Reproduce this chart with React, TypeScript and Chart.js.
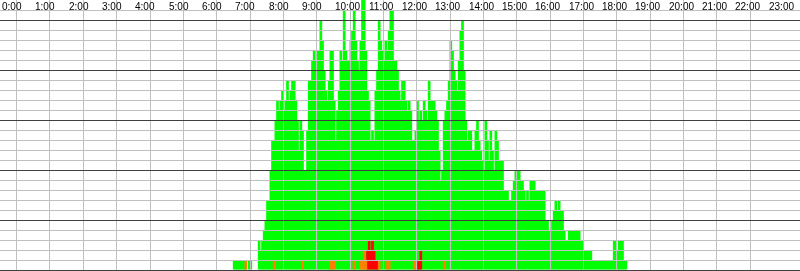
import { useEffect, useRef } from 'react';
import { Chart, registerables } from 'chart.js';

Chart.register(...registerables);

// Hour labels shown along the top of the plot
const HOUR_LABELS = [
  '0:00', '1:00', '2:00', '3:00', '4:00', '5:00', '6:00', '7:00', '8:00', '9:00', '10:00', '11:00',
  '12:00', '13:00', '14:00', '15:00', '16:00', '17:00', '18:00', '19:00', '20:00', '21:00', '22:00', '23:00',
];

// 3-minute bins, 20 per hour. Total bar height (rows) per bin.
const total07 = [1, 1, 1, 1, 1, 1, 1, 1, 0, 1, 1, 0, 0, 0, 0, 3, 2, 3, 4, 5];
const total08 = [7, 7, 10, 13, 13, 15, 17, 16, 17, 18, 16, 17, 19, 17, 18, 19, 19, 17, 15, 12];
const total09 = [15, 14, 10, 10, 14, 19, 19, 21, 22, 21, 22, 22, 25, 23, 20, 18, 17, 19, 22, 22];
const total10 = [17, 13, 16, 18, 22, 21, 26, 22, 21, 21, 23, 24, 26, 23, 21, 20, 23, 27, 27, 22];
const total11 = [18, 17, 13, 14, 13, 18, 20, 25, 23, 22, 21, 23, 22, 24, 26, 26, 21, 21, 20, 18];
const total12 = [17, 19, 19, 17, 16, 17, 16, 13, 13, 14, 17, 15, 16, 15, 17, 16, 15, 19, 17, 17];
const total13 = [17, 16, 15, 12, 9, 10, 15, 16, 17, 19, 23, 22, 20, 19, 18, 21, 24, 25, 20, 15];
const total14 = [13, 14, 14, 12, 12, 14, 15, 13, 12, 11, 10, 15, 13, 11, 14, 12, 10, 14, 13, 11];
const total15 = [11, 11, 8, 8, 8, 7, 7, 8, 9, 10, 10, 10, 9, 9, 8, 7, 8, 7, 9, 9];
const total16 = [9, 8, 8, 8, 8, 8, 8, 5, 5, 4, 4, 5, 6, 7, 6, 7, 6, 6, 4, 3];
const total17 = [3, 4, 4, 4, 4, 4, 4, 4, 3, 3, 2, 2, 2, 2, 2, 1, 1, 1, 1, 1];
const total18 = [1, 1, 1, 1, 1, 1, 1, 1, 3, 3, 2, 3, 3, 3, 1, 1, 0, 0, 0, 0];

// Orange (bottom) rows per bin
const orange07 = [0, 0, 0, 0, 0, 0, 0, 1, 0, 0, 0, 0, 0, 0, 0, 0, 0, 0, 0, 0];
const orange08 = [0, 0, 0, 0, 1, 0, 0, 0, 0, 0, 0, 0, 0, 0, 0, 0, 0, 0, 0, 0];
const orange09 = [0, 1, 0, 0, 0, 0, 0, 0, 0, 0, 0, 0, 0, 0, 0, 0, 0, 0, 1, 1];
const orange10 = [1, 0, 0, 0, 0, 0, 0, 0, 0, 0, 1, 0, 1, 0, 0, 0, 1, 1, 2, 1];
const orange11 = [0, 0, 0, 0, 0, 0, 0, 1, 0, 0, 0, 0, 1, 1, 0, 0, 0, 0, 0, 0];
const orange12 = [0, 0, 0, 0, 0, 0, 0, 0, 1, 1, 0, 0, 0, 0, 0, 0, 0, 0, 0, 0];
const orange13 = [0, 0, 0, 0, 0, 0, 1, 0, 0, 0, 0, 0, 0, 0, 0, 0, 0, 0, 0, 0];

// Red (bottom) rows per bin
const red11 = [2, 3, 2, 3, 2, 1, 1, 0, 0, 0, 0, 0, 0, 0, 0, 0, 0, 0, 0, 0];
const red12 = [0, 0, 0, 0, 0, 0, 0, 0, 0, 0, 1, 1, 2, 0, 0, 0, 0, 0, 0, 0];

const totalByHour: Record<number, number[]> = {
  7: total07, 8: total08, 9: total09, 10: total10, 11: total11, 12: total12,
  13: total13, 14: total14, 15: total15, 16: total16, 17: total17, 18: total18,
};
const orangeByHour: Record<number, number[]> = {
  7: orange07, 8: orange08, 9: orange09, 10: orange10, 11: orange11, 12: orange12, 13: orange13,
};
const redByHour: Record<number, number[]> = { 11: red11, 12: red12 };

const BINS = 20;

function flatten(byHour: Record<number, number[]>): number[] {
  const out: number[] = [];
  for (let h = 0; h < 24; h++) {
    const arr = byHour[h];
    for (let k = 0; k < BINS; k++) out.push(arr ? arr[k] : 0);
  }
  return out;
}

function binLabels(): string[] {
  const out: string[] = [];
  for (let h = 0; h < 24; h++) {
    for (let k = 0; k < BINS; k++) out.push(`${h}:${String(k * 3).padStart(2, '0')}`);
  }
  return out;
}

const hourLabelPlugin = {
  id: 'hourLabels',
  afterDraw(chart: any) {
    const scale = chart.scales.xh;
    const ctx = chart.ctx;
    ctx.save();
    ctx.font = '10px "Liberation Sans", Arial, sans-serif';
    ctx.fillStyle = '#000000';
    ctx.textBaseline = 'alphabetic';
    ctx.textAlign = 'left';
    for (let h = 0; h < 24; h++) {
      const x = Math.round(scale.getPixelForValue(h));
      ctx.fillText(HOUR_LABELS[h], x + 2, 10);
    }
    ctx.restore();
  },
};

export default function App() {
  const canvasRef = useRef<HTMLCanvasElement | null>(null);

  useEffect(() => {
    document.body.style.margin = '0';
    const canvas = canvasRef.current;
    if (!canvas) return;
    const chart = new Chart(canvas, {
      type: 'bar',
      data: {
        labels: binLabels(),
        datasets: [
          { label: 'orange', data: flatten(orangeByHour), backgroundColor: '#ff8000' },
          { label: 'red', data: flatten(redByHour), backgroundColor: '#ff0000' },
          { label: 'green', data: flatten(totalByHour), backgroundColor: '#00ff00' },
        ],
      },
      options: {
        animation: false,
        responsive: true,
        maintainAspectRatio: false,
        layout: { padding: { left: 0, right: 0, top: 0, bottom: 1 } },
        plugins: { legend: { display: false }, tooltip: { enabled: false } },
        datasets: {
          bar: {
            grouped: false,
            barPercentage: 1.6,
            categoryPercentage: 1,
            borderWidth: 0,
            inflateAmount: 0,
          },
        },
        scales: {
          x: { type: 'category', display: false, offset: true },
          xh: {
            type: 'linear',
            axis: 'x',
            position: 'bottom',
            min: 0,
            max: 24,
            offset: false,
            ticks: { display: false, stepSize: 1, maxTicksLimit: 100 },
            grid: {
              z: 1,
              drawTicks: false,
              lineWidth: 1,
              color: (c: any) => (c.tick && (c.tick.value === 0 || c.tick.value === 24) ? 'rgba(0,0,0,0)' : '#c0c0c0'),
            },
            border: { display: false },
          },
          y: {
            type: 'linear',
            min: 0,
            max: 27,
            ticks: { display: false, stepSize: 1, maxTicksLimit: 100 },
            grid: {
              z: 1,
              drawTicks: false,
              lineWidth: 1,
              color: (c: any) => {
                const v = c.tick ? c.tick.value : 0;
                if (v === 27) return 'rgba(0,0,0,0)';
                return v % 5 === 0 ? '#404040' : '#c0c0c0';
              },
            },
            border: { display: false },
          },
        },
      } as any,
      plugins: [hourLabelPlugin],
    });
    return () => chart.destroy();
  }, []);

  return (
    <div style={{ position: 'relative', width: '800px', height: '271px', background: '#ffffff' }}>
      <canvas ref={canvasRef} />
    </div>
  );
}
